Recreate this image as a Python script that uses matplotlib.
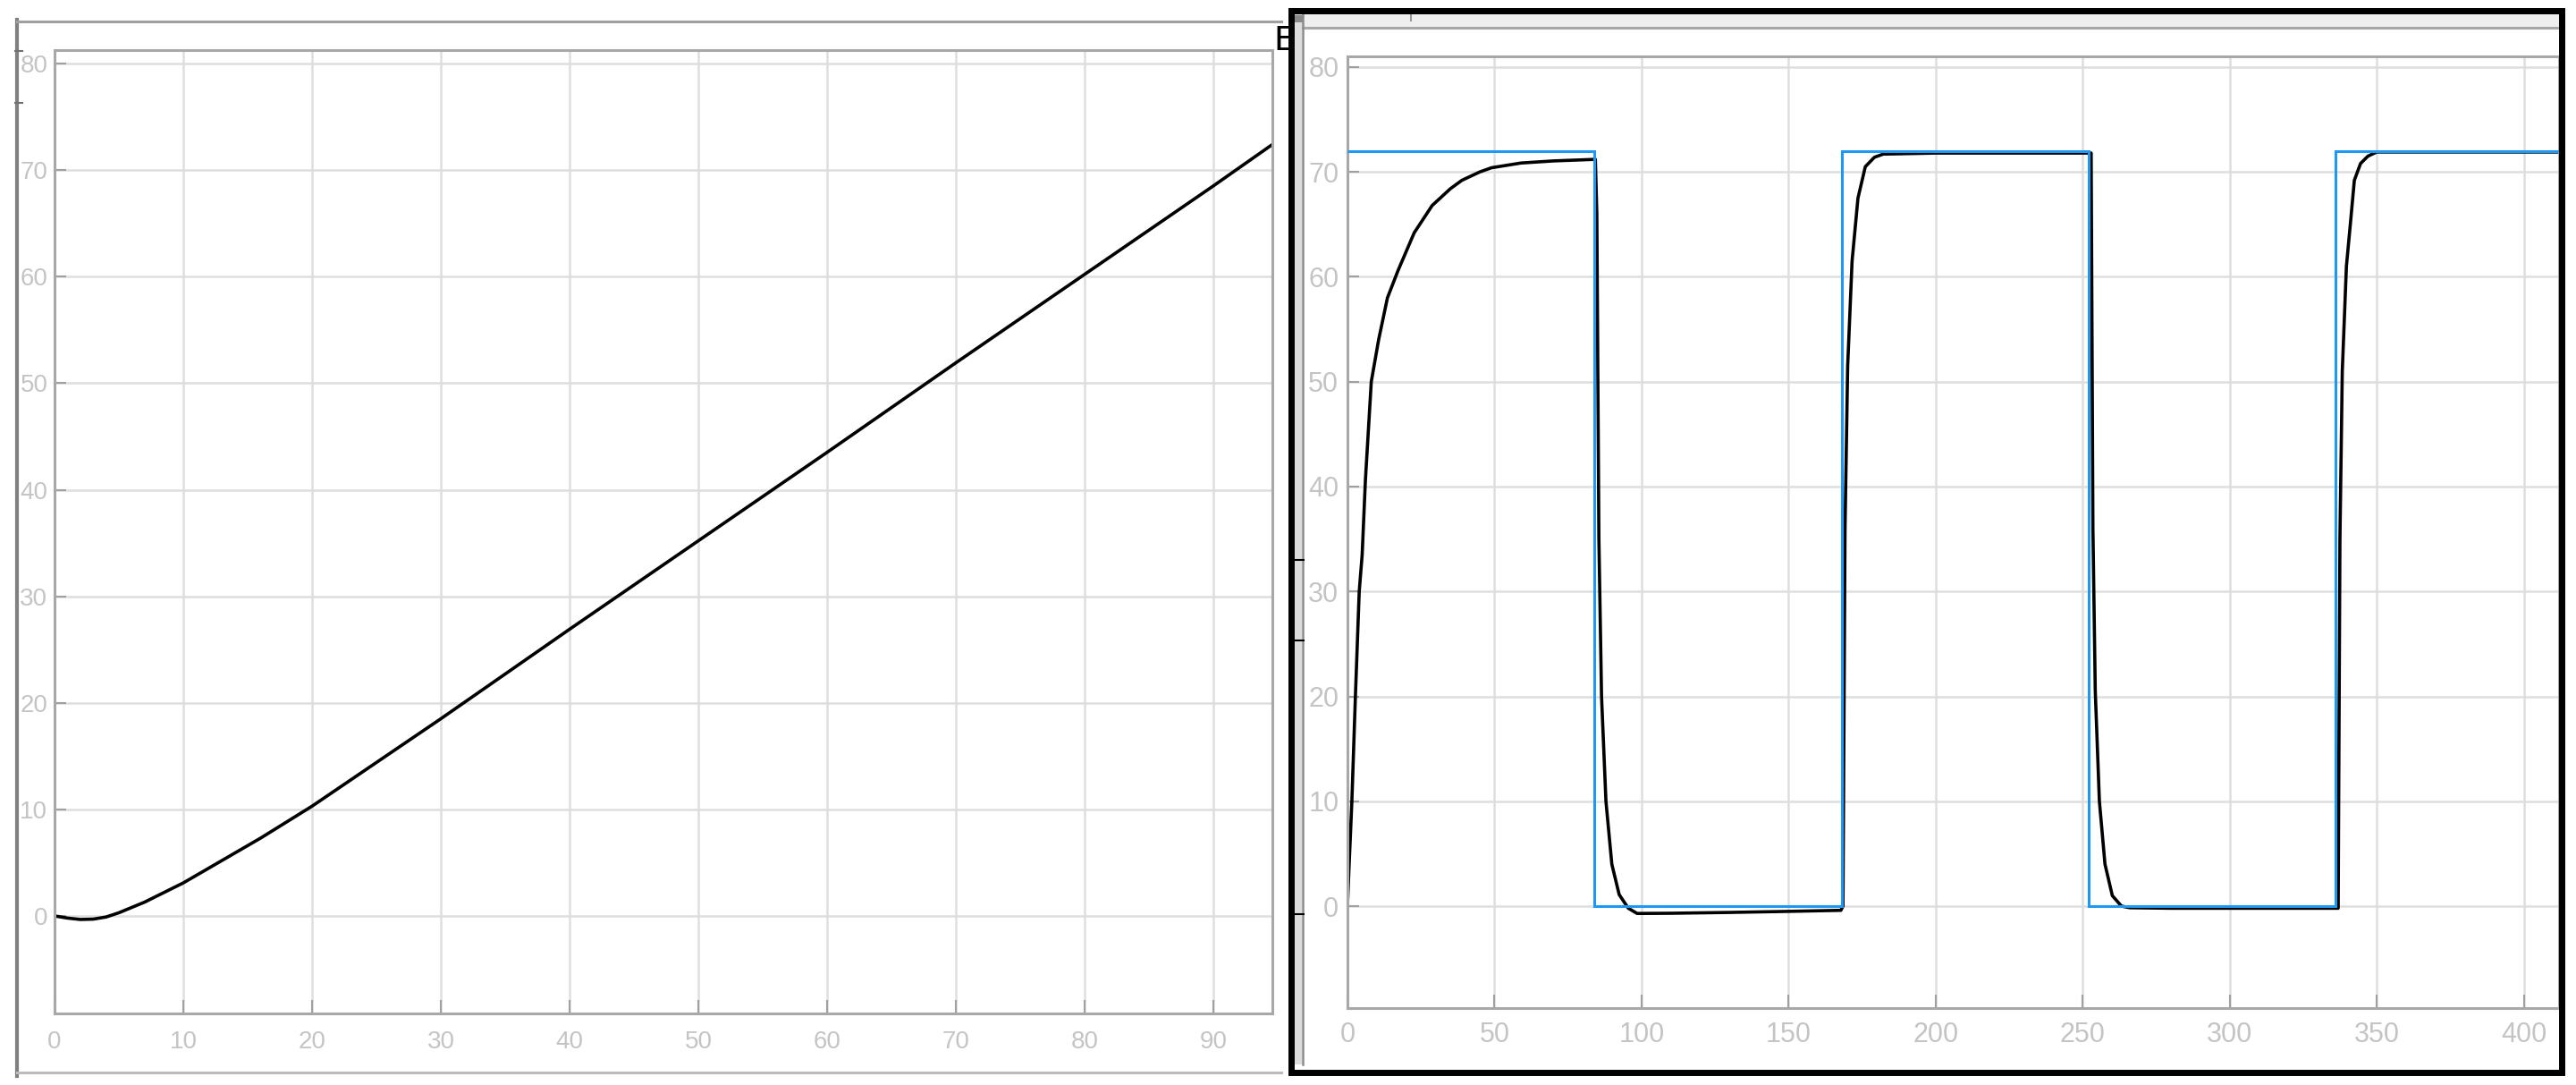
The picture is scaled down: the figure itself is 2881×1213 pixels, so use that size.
import numpy as np
import matplotlib.pyplot as plt
from matplotlib.patches import Rectangle

W, H = 2881, 1213

# left scope: ramp response
ramp_t = [0, 1, 2, 3, 4, 5, 6, 7, 8, 9, 10, 12, 14, 16, 18, 20, 25, 30, 40, 50, 60, 70, 80, 90, 94.6]
ramp_y = [0, -0.2, -0.33, -0.3, -0.1, 0.3, 0.8, 1.3, 1.9, 2.5, 3.1, 4.5, 5.9, 7.3, 8.8, 10.3, 14.4,
          18.5, 26.9, 35.2, 43.5, 51.9, 60.2, 68.5, 72.4]

# right scope: square-wave reference and response
ref_edges = [0, 84, 168, 252, 336, 412]
ref_levels = [72, 0, 72, 0, 72]

resp_t = [0, 0.5, 1.5, 2.7, 4.0, 5.0, 6.1, 8.1, 10.6, 13.6, 17.2, 22.7, 28.8, 35, 38.9, 45, 49, 59, 70, 84.3,
          84.8, 85.5, 86.4, 87.9, 89.9, 92.4, 95.5, 98.5, 110, 130, 150, 167.8,
          168.5, 169.2, 170.1, 171.6, 173.6, 176.1, 179.2, 182.2, 200, 252.4,
          252.9, 253.5, 254.3, 255.7, 257.6, 260.1, 263.2, 266, 280, 336.4,
          336.9, 337.5, 338.3, 339.7, 341.2, 342.4, 344.5, 347, 350, 380, 412]
resp_y = [0, 3.5, 10, 20, 30, 33.5, 40.6, 50, 54, 58, 60.6, 64.2, 66.8, 68.4, 69.2, 70, 70.4, 70.85, 71.05, 71.2,
          66, 35, 20, 10, 4, 1.1, -0.2, -0.7, -0.68, -0.6, -0.5, -0.4,
          0, 36, 51.5, 61.5, 67.5, 70.5, 71.4, 71.7, 71.8, 71.8,
          71.8, 36, 20.5, 10, 4, 1, 0, -0.15, -0.2, -0.2,
          -0.2, 35, 51, 61, 65.5, 69.2, 70.8, 71.5, 71.9, 71.9, 71.9]

plt.rcParams['font.family'] = ['Liberation Sans', 'DejaVu Sans']

fig = plt.figure(figsize=(W / 100, H / 100), dpi=100)
fig.patch.set_facecolor('white')


def box(x0, y0, x1, y1):
    return [x0 / W, 1 - y1 / H, (x1 - x0) / W, (y1 - y0) / H]


def style(ax, size, xpad, ypad):
    for s in ax.spines.values():
        s.set_color('#a8a8a8')
        s.set_linewidth(2.2)
    ax.grid(True, color='#dedede', linewidth=1.8)
    ax.set_axisbelow(True)
    ax.tick_params(axis='both', direction='in', color='#a0a0a0', width=1.5,
                   labelcolor='#c4c4c4', labelsize=size)
    ax.tick_params(axis='y', length=9.5, pad=ypad)
    ax.tick_params(axis='x', length=11, pad=xpad)


ax1 = fig.add_axes(box(61, 56, 1423, 1133))
ax1.plot(ramp_t, ramp_y, color='black', linewidth=2.6)
ax1.set_xlim(0, 94.6)
ax1.set_ylim(-9.15, 81.26)
ax1.set_xticks(np.arange(0, 91, 10))
ax1.set_yticks(np.arange(0, 81, 10))
style(ax1, 20, 14, 5.5)

ax2 = fig.add_axes(box(1507, 63, 2862, 1127))
ax2.plot(resp_t, resp_y, color='black', linewidth=2.6, zorder=2)
ax2.stairs(ref_levels, ref_edges, baseline=None, color='#1e98f0', linewidth=2.2, zorder=3)
ax2.set_xlim(0, 412)
ax2.set_ylim(-9.72, 81.02)
ax2.set_xticks(np.arange(0, 401, 50))
ax2.set_yticks(np.arange(0, 81, 10))
style(ax2, 22, 11, 7)

# window decorations
deco = fig.add_axes([0, 0, 1, 1], zorder=5)
deco.set_xlim(0, W)
deco.set_ylim(H, 0)
deco.axis('off')
deco.patch.set_visible(False)

# left window edges
deco.plot([19, 19], [22, 1203], color='#808080', linewidth=3)
deco.plot([19, 1433], [23.5, 23.5], color='#a0a0a0', linewidth=2.2)
deco.plot([19, 1433], [1199, 1199], color='#bbbbbb', linewidth=2.2)
for yy in [57, 115]:
    deco.plot([17, 25], [yy, yy], color='#707070', linewidth=1.5)
deco.text(1424, 46, 'E', color='black', fontsize=27, family='DejaVu Sans',
          ha='left', va='center', zorder=1)

# right window strips
deco.add_patch(Rectangle((1447, 15), 1418, 15, facecolor='#efefef', edgecolor='none', zorder=2))
deco.plot([1447, 2862], [31, 31], color='#a8a8a8', linewidth=2.2, zorder=2)
deco.plot([1578, 1578], [15, 23], color='#999999', linewidth=1.5, zorder=2)
deco.add_patch(Rectangle((1447, 15), 9, 1175, facecolor='#dcdcdc', edgecolor='none', zorder=2))
deco.plot([1457, 1457], [15, 1190], color='#8c8c8c', linewidth=1.8, zorder=2)
deco.add_patch(Rectangle((1447, 17), 10, 8, facecolor='#888888', edgecolor='none', zorder=2))
for yy in [626, 716, 1022]:
    deco.plot([1447, 1458], [yy, yy], color='black', linewidth=1.5, zorder=2)

# thick black frame around the right window
deco.add_patch(Rectangle((1443.5, 11.5), 1421, 1187, facecolor='none', edgecolor='black',
                         linewidth=5.0, zorder=4))

fig.savefig('out.png', dpi=100)
